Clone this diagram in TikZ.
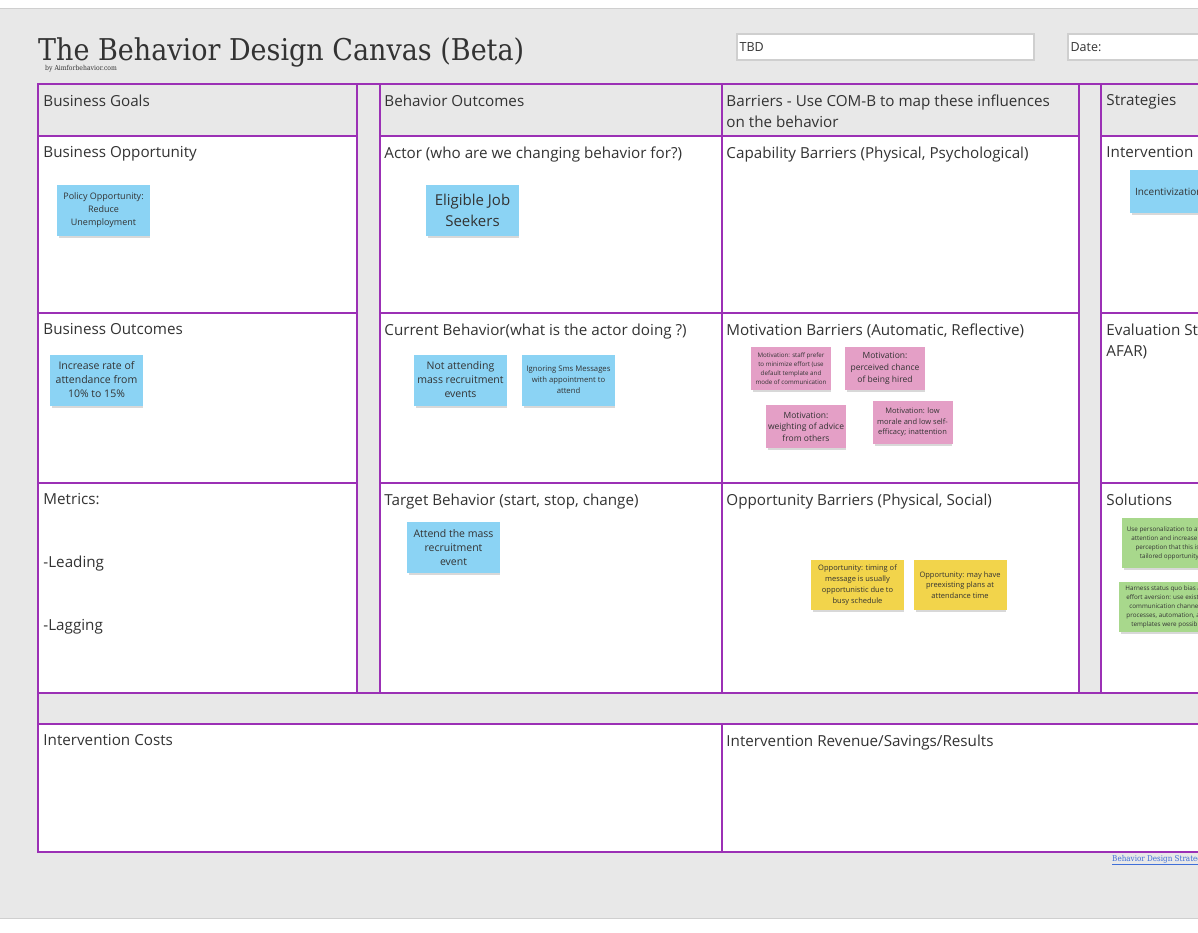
\documentclass[tikz,border=0pt]{standalone}
\usepackage{fontspec}
\setmainfont{Open Sans}
\newfontfamily\slabfont[FakeStretch=0.9]{DejaVu Serif}
\usetikzlibrary{shadows}
\definecolor{CanvasPurple}{HTML}{9B30B5}
\definecolor{CanvasGray}{HTML}{E8E8E8}
\definecolor{EdgeGray}{HTML}{CFCFCF}
\definecolor{Ink}{HTML}{333333}
\definecolor{NoteBlue}{HTML}{8BD3F4}
\definecolor{NotePink}{HTML}{E49FC6}
\definecolor{NoteYellow}{HTML}{F2D44B}
\definecolor{NoteGreen}{HTML}{A8D88C}
\definecolor{LinkBlue}{HTML}{3F6FD8}
\tikzset{
  cell/.style={draw=CanvasPurple, line width=1.5pt, fill=white, inner sep=0pt},
  headcell/.style={cell, fill=CanvasGray},
  celllab/.style={font=\fontsize{15.2}{21}\selectfont, text=Ink, inner sep=0pt, align=left},
  field/.style={draw=EdgeGray, line width=1.2pt, fill=white, inner sep=0pt},
  fieldlab/.style={font=\fontsize{12.5}{14}\selectfont, text=Ink, inner sep=0pt},
  sticky/.style={align=center, inner sep=2pt, text=Ink,
    drop shadow={shadow xshift=1pt, shadow yshift=-3pt, shadow scale=0.97, opacity=0.3}},
  bluenote/.style={sticky, fill=NoteBlue, minimum width=93pt, minimum height=51pt},
  pinknote/.style={sticky, fill=NotePink, minimum width=80pt, minimum height=43pt},
  yellownote/.style={sticky, fill=NoteYellow, minimum width=93pt, minimum height=50pt},
  greennote/.style={sticky, fill=NoteGreen, minimum width=96pt, minimum height=50pt},
}
\begin{document}
\begin{tikzpicture}[x=1pt,y=-1pt]
  \useasboundingbox (0,0) rectangle (1198,932);
  \fill[white] (0,0) rectangle (1198,932);
  \filldraw[fill=CanvasGray, draw=EdgeGray, line width=1pt] (-5,8) rectangle (1203,918);

  \node[anchor=base west, inner sep=0pt, font=\slabfont\fontsize{30}{34}\selectfont, text=Ink] (title) at (38,60) {The Behavior Design Canvas (Beta)};
  \node[anchor=west, inner sep=0pt, font=\slabfont\fontsize{6.8}{7}\selectfont, text=Ink] (byline) at (45,69) {by Aimforbehavior.com};
  \node[field, minimum width=297pt, minimum height=26pt] (tbdbox) at (885.5,47) {};
  \node[fieldlab, anchor=west] (tbdlab) at ([xshift=3pt]tbdbox.west) {TBD};
  \node[field, minimum width=160pt, minimum height=26pt] (datebox) at (1148,47) {};
  \node[fieldlab, anchor=west] (datelab) at ([xshift=3pt]datebox.west) {Date:};

  \node[headcell, minimum width=23pt, minimum height=609pt] (gapa) at (368.5,388.5) {};
  \node[headcell, minimum width=22pt, minimum height=609pt] (gapb) at (1090,388.5) {};
  \node[headcell, minimum width=1182pt, minimum height=31pt] (strip) at (629,708.5) {};

  \node[headcell, minimum width=319pt, minimum height=52pt] (goalsh) at (197.5,110) {};
  \node[headcell, minimum width=342pt, minimum height=52pt] (behh) at (551,110) {};
  \node[headcell, minimum width=357pt, minimum height=52pt] (barh) at (900.5,110) {};
  \node[headcell, minimum width=119pt, minimum height=52pt] (strath) at (1160.5,110) {};
  \node[celllab, anchor=north west] (goalslab) at ([xshift=6pt,yshift=-11pt]goalsh.north west) {Business Goals};
  \node[celllab, anchor=north west] (behlab) at ([xshift=5pt,yshift=-11pt]behh.north west) {Behavior Outcomes};
  \node[celllab, anchor=north west] (barlab) at ([xshift=5pt,yshift=-11pt]barh.north west) {Barriers - Use COM-B to map these influences\\on the behavior};
  \node[celllab, anchor=north west] (stratlab) at ([xshift=6pt,yshift=-11pt]strath.north west) {Strategies};

  \node[cell, minimum width=319pt, minimum height=177pt] (oppc) at (197.5,224.5) {};
  \node[cell, minimum width=342pt, minimum height=177pt] (actc) at (551,224.5) {};
  \node[cell, minimum width=357pt, minimum height=177pt] (capc) at (900.5,224.5) {};
  \node[cell, minimum width=119pt, minimum height=177pt] (intc) at (1160.5,224.5) {};
  \node[celllab, anchor=north west] (opplab) at ([xshift=6pt,yshift=-11pt]oppc.north west) {Business Opportunity};
  \node[celllab, anchor=north west] (actlab) at ([xshift=5pt,yshift=-11pt]actc.north west) {Actor (who are we changing behavior for?)};
  \node[celllab, anchor=north west] (caplab) at ([xshift=5pt,yshift=-11pt]capc.north west) {Capability Barriers (Physical, Psychological)};
  \node[celllab, anchor=north west] (intlab) at ([xshift=6pt,yshift=-11pt]intc.north west) {Intervention Functions};

  \node[cell, minimum width=319pt, minimum height=170pt] (outc) at (197.5,398) {};
  \node[cell, minimum width=342pt, minimum height=170pt] (curc) at (551,398) {};
  \node[cell, minimum width=357pt, minimum height=170pt] (motc) at (900.5,398) {};
  \node[cell, minimum width=119pt, minimum height=170pt] (evalc) at (1160.5,398) {};
  \node[celllab, anchor=north west] (outlab) at ([xshift=6pt,yshift=-11pt]outc.north west) {Business Outcomes};
  \node[celllab, anchor=north west] (curlab) at ([xshift=5pt,yshift=-11pt]curc.north west) {Current Behavior(what is the actor doing ?)};
  \node[celllab, anchor=north west] (motlab) at ([xshift=5pt,yshift=-11pt]motc.north west) {Motivation Barriers (Automatic, Reflective)};
  \node[celllab, anchor=north west] (evallab) at ([xshift=6pt,yshift=-11pt]evalc.north west) {Evaluation Strategy (APEASE,\\AFAR)};

  \node[cell, minimum width=319pt, minimum height=210pt] (metc) at (197.5,588) {};
  \node[cell, minimum width=342pt, minimum height=210pt] (tgtc) at (551,588) {};
  \node[cell, minimum width=357pt, minimum height=210pt] (oppbc) at (900.5,588) {};
  \node[cell, minimum width=119pt, minimum height=210pt] (solc) at (1160.5,588) {};
  \node[celllab, anchor=north west] (metlab) at ([xshift=6pt,yshift=-11pt]metc.north west) {Metrics:\\[42pt]-Leading\\[42pt]-Lagging};
  \node[celllab, anchor=north west] (tgtlab) at ([xshift=5pt,yshift=-11pt]tgtc.north west) {Target Behavior (start, stop, change)};
  \node[celllab, anchor=north west] (oppblab) at ([xshift=5pt,yshift=-11pt]oppbc.north west) {Opportunity Barriers (Physical, Social)};
  \node[celllab, anchor=north west] (sollab) at ([xshift=6pt,yshift=-11pt]solc.north west) {Solutions};

  \node[cell, minimum width=684pt, minimum height=128pt] (costc) at (380,788) {};
  \node[cell, minimum width=498pt, minimum height=128pt] (revc) at (971,788) {};
  \node[celllab, anchor=north west] (costlab) at ([xshift=6pt,yshift=-11pt]costc.north west) {Intervention Costs};
  \node[celllab, anchor=north west] (revlab) at ([xshift=5pt,yshift=-11pt]revc.north west) {Intervention Revenue/Savings/Results};

  \node[anchor=base west, inner sep=0pt, font=\slabfont\fontsize{8}{8}\selectfont, text=LinkBlue] (stratlink) at (1112,861) {\underline{Behavior Design Strategy}};

  \node[bluenote, font=\fontsize{9}{13}\selectfont] (policy) at (103.5,210.5) {Policy Opportunity:\\Reduce\\Unemployment};
  \node[bluenote, font=\fontsize{15}{21}\selectfont] (seekers) at (472.5,210) {Eligible Job\\Seekers};
  \node[bluenote, font=\fontsize{10.5}{14}\selectfont] (attrate) at (96.5,380) {Increase rate of\\attendance from\\10\% to 15\%};
  \node[bluenote, font=\fontsize{10.5}{14}\selectfont] (notattend) at (460.5,380) {Not attending\\mass recruitment\\events};
  \node[bluenote, font=\fontsize{7.7}{11}\selectfont] (ignoresms) at (568.5,380) {Ignoring Sms Messages\\with appointment to\\attend};
  \node[bluenote, font=\fontsize{10.5}{14}\selectfont] (attendev) at (453.5,547.5) {Attend the mass\\recruitment\\event};
  \node[bluenote, align=left, text width=83pt, inner sep=5pt, minimum height=43pt, font=\fontsize{10}{12}\selectfont] (incent) at (1176.5,191.5) {Incentivization};

  \node[pinknote, font=\fontsize{6.2}{9}\selectfont] (effort) at (791,368.5) {Motivation: staff prefer\\to minimize effort (use\\default template and\\mode of communication};
  \node[pinknote, font=\fontsize{8.5}{12}\selectfont] (hired) at (885,368.5) {Motivation:\\perceived chance\\of being hired};
  \node[pinknote, font=\fontsize{8.5}{11.5}\selectfont] (advice) at (806,426.5) {Motivation:\\weighting of advice\\from others};
  \node[pinknote, font=\fontsize{7.5}{10.5}\selectfont] (morale) at (912.5,422.5) {Motivation: low\\morale and low self-\\efficacy; inattention};

  \node[yellownote, font=\fontsize{7.5}{11}\selectfont] (timing) at (857.5,585) {Opportunity: timing of\\message is usually\\opportunistic due to\\busy schedule};
  \node[yellownote, font=\fontsize{7.5}{10.5}\selectfont] (plans) at (960,585) {Opportunity: may have\\preexisting plans at\\attendance time};

  \node[greennote, font=\fontsize{6.3}{9}\selectfont] (personal) at (1170,543) {Use personalization to attract\\attention and increase the\\perception that this is a\\tailored opportunity.};
  \node[greennote, font=\fontsize{6.3}{9}\selectfont] (harness) at (1167,607) {Harness status quo bias and\\effort aversion: use existing\\communication channels,\\processes, automation, and\\templates were possible};
\end{tikzpicture}
\end{document}
